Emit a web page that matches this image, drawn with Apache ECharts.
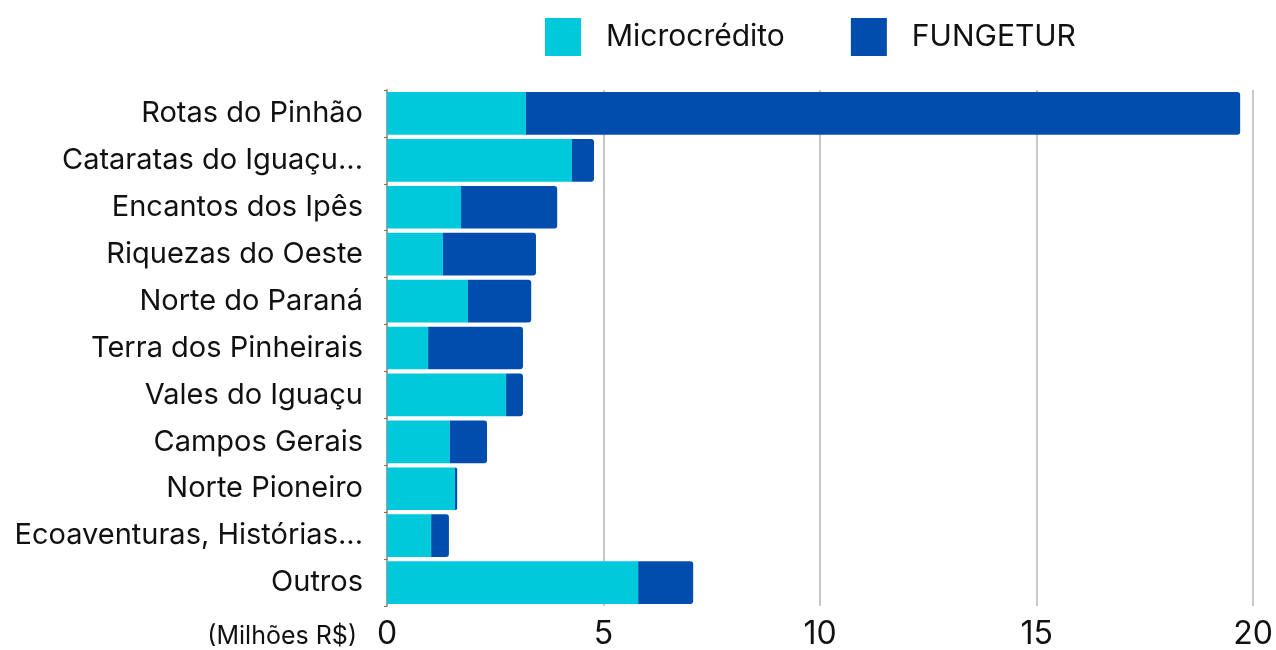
<!DOCTYPE html>
<html>
<head>
<meta charset="utf-8">
<script src="https://cdn.jsdelivr.net/npm/echarts@6/dist/echarts.min.js"></script>
<style>
  html, body { margin: 0; padding: 0; background: #fff; }
  #chart { width: 1276px; height: 650px; }
</style>
</head>
<body>
<div id="chart"></div>
<script>
// categorias (de cima para baixo)
var regioes = ['Rotas do Pinhão', 'Cataratas do Iguaçu...', 'Encantos dos Ipês', 'Riquezas do Oeste',
  'Norte do Paraná', 'Terra dos Pinheirais', 'Vales do Iguaçu', 'Campos Gerais',
  'Norte Pioneiro', 'Ecoaventuras, Histórias...', 'Outros']
// valores em milhões R$
var microcredito = [3.21, 4.27, 1.71, 1.29, 1.87, 0.95, 2.75, 1.45, 1.57, 1.02, 5.80]
var fungetur = [16.49, 0.51, 2.22, 2.15, 1.46, 2.19, 0.39, 0.86, 0.05, 0.41, 1.27]
var xTicks = [0, 5, 10, 15, 20]

var myChart = echarts.init(document.getElementById('chart'))
var font = 'Inter, "Noto Sans", sans-serif'
var option = {
  animation: false,
  color: ['#00C9DB', '#004DAD'],
  textStyle: { fontFamily: font },
  legend: {
    top: 13,
    left: 540,
    itemWidth: 36,
    itemHeight: 38,
    itemGap: 66,
    icon: 'rect',
    textStyle: { fontSize: 30, color: '#111', fontFamily: font, padding: [0, 0, 0, 20] },
    data: ['Microcrédito', 'FUNGETUR']
  },
  grid: {
    left: 387,
    right: 22,
    top: 90,
    bottom: 42,
    containLabel: false
  },
  xAxis: {
    type: 'value',
    min: xTicks[0],
    max: xTicks[xTicks.length - 1],
    interval: 5,
    name: '(Milhões R$)',
    nameLocation: 'start',
    nameGap: 30,
    nameTextStyle: { fontSize: 25, color: '#111', fontFamily: font, verticalAlign: 'top', padding: [18, 0, 0, 0] },
    axisLine: { show: false },
    axisTick: { show: false },
    axisLabel: { fontSize: 32, color: '#111', fontFamily: font, margin: 12 },
    splitLine: { lineStyle: { color: '#c8c8c8', width: 2 } }
  },
  yAxis: {
    type: 'category',
    inverse: true,
    data: regioes,
    axisLine: { show: true, lineStyle: { color: '#a0a0a0', width: 2 } },
    axisTick: { show: true, length: 3, lineStyle: { color: '#8a6a5a' } },
    axisLabel: { fontSize: 29, color: '#111', fontFamily: font, margin: 24 }
  },
  series: [{
    name: 'Microcrédito',
    type: 'bar',
    stack: 'total',
    barCategoryGap: '9%',
    data: microcredito
  }, {
    name: 'FUNGETUR',
    type: 'bar',
    stack: 'total',
    barCategoryGap: '9%',
    itemStyle: { borderRadius: [0, 3, 3, 0] },
    data: fungetur
  }]
}
myChart.setOption(option)
</script>
</body>
</html>
